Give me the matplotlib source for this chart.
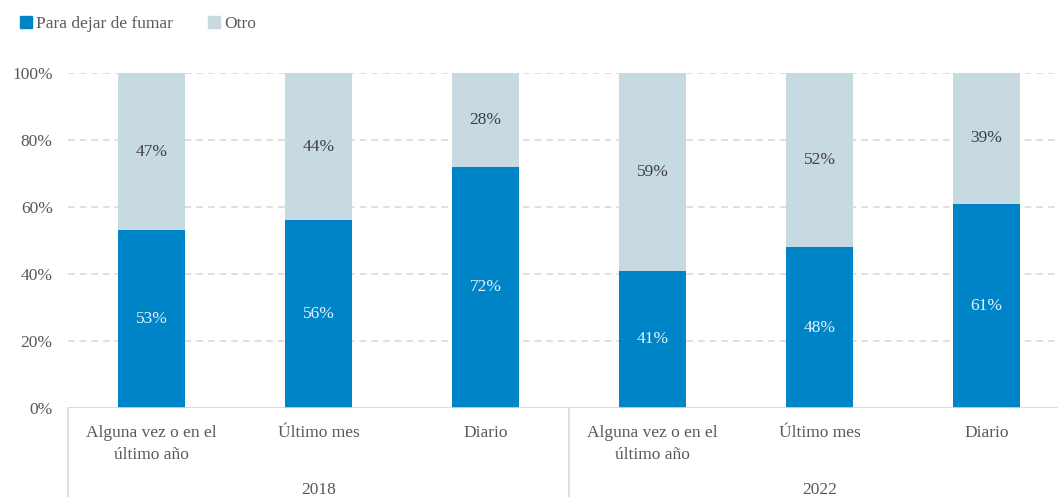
import matplotlib
matplotlib.use("Agg")
import matplotlib.pyplot as plt
from matplotlib.patches import Rectangle
from matplotlib.lines import Line2D

categories = ["Alguna vez o en el\núltimo año", "Último mes", "Diario",
              "Alguna vez o en el\núltimo año", "Último mes", "Diario"]
years = ["2018", "2022"]
para_dejar = [53, 56, 72, 41, 48, 61]
otro = [47, 44, 28, 59, 52, 39]
series_names = ["Para dejar de fumar", "Otro"]

BLUE = "#0084C8"
LIGHT = "#C7DAE2"
TXT = "#595959"
FONT = "Liberation Serif"

plt.rcParams["font.family"] = FONT

fig = plt.figure(figsize=(10.58, 4.97), dpi=100)
ax = fig.add_axes([68/1058, (497-408)/497, 1002/1058, 335/497])

x = list(range(len(categories)))
ax.bar(x, para_dejar, width=0.4, color=BLUE, zorder=3)
ax.bar(x, otro, width=0.4, bottom=para_dejar, color=LIGHT, zorder=3)

for i in x:
    ax.text(i, para_dejar[i]/2, f"{para_dejar[i]}%", ha="center", va="center",
            color="#E6F2FA", fontsize=12.5, zorder=4)
    ax.text(i, para_dejar[i] + otro[i]/2, f"{otro[i]}%", ha="center", va="center",
            color="#404040", fontsize=12.5, zorder=4)

ax.set_xlim(-0.5, len(categories) - 0.5)
ax.set_ylim(0, 100)
ax.set_yticks(range(0, 101, 20))
ax.set_yticklabels([f"{v}%" for v in range(0, 101, 20)], color=TXT, fontsize=12.5)
ax.tick_params(axis="y", length=0, pad=11)
ax.set_xticks([])
for s in ax.spines.values():
    s.set_visible(False)
ax.yaxis.grid(True, color="#D9D9D9", linestyle=(0, (4, 3)), linewidth=1.2, zorder=0)
ax.axhline(0, color="#D9D9D9", linewidth=1.2, zorder=5)

# category labels and year labels below axis
for i, c in enumerate(categories):
    ax.annotate(c, xy=(i, 0), xycoords="data", xytext=(0, -12), textcoords="offset points",
                ha="center", va="top", fontsize=12.5, color=TXT, linespacing=1.5,
                annotation_clip=False)
for g, y in enumerate(years):
    ax.annotate(y, xy=(g*3 + 1, 0), xycoords="data", xytext=(0, -53), textcoords="offset points",
                ha="center", va="top", fontsize=12.5, color=TXT, annotation_clip=False)

# group separator lines
for xb in [-0.5, 2.5, 5.5]:
    ax.add_line(Line2D([xb, xb], [0, -0.27], transform=ax.get_xaxis_transform(),
                       color="#D9D9D9", linewidth=1.2, clip_on=False))

handles = [Rectangle((0, 0), 1, 1, color=BLUE), Rectangle((0, 0), 1, 1, color=LIGHT)]
fig.legend(handles, series_names, loc="upper left", bbox_to_anchor=(0.004, 1.0),
           ncol=2, frameon=False, fontsize=12.5, handlelength=0.7, handleheight=0.7,
           handletextpad=0.25, columnspacing=2.0, labelcolor=TXT)

fig.savefig("out.png", dpi=100)
